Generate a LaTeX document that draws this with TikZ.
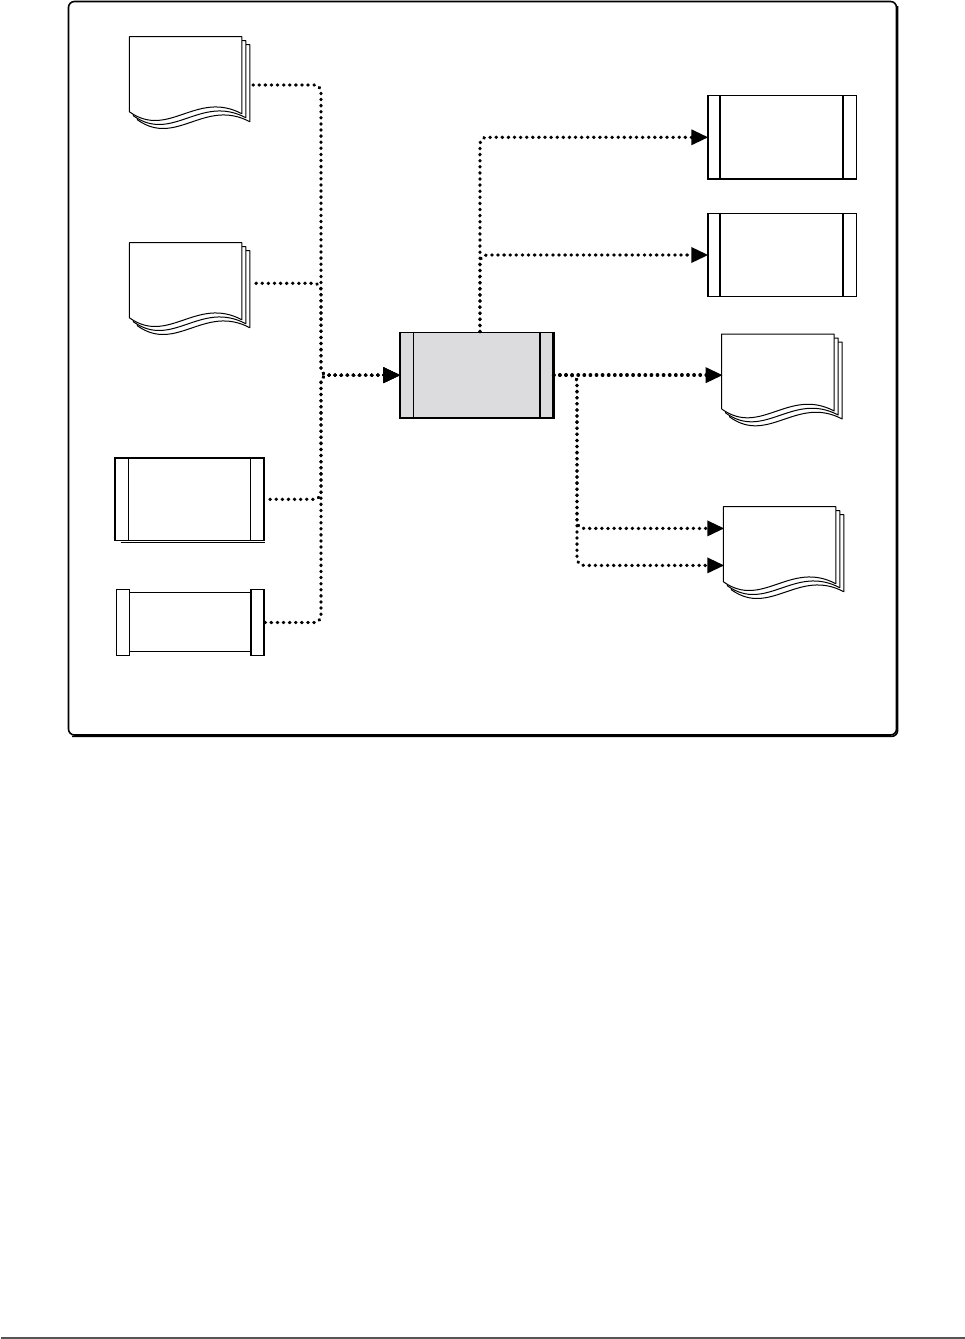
\documentclass[tikz,border=0pt]{standalone}
\usetikzlibrary{arrows.meta,calc}
\definecolor{boxgray}{HTML}{DCDCDE}
\definecolor{rulegray}{HTML}{555555}
\tikzset{
 pagestyle/.style={fill=white,draw=black,line width=1pt,line join=round},
 procbox/.style={draw=black,line width=1.3pt,inner sep=0pt,anchor=north west},
 innerline/.style={draw=black,line width=2pt},
 flow/.style={line width=3.4pt,line cap=round,dash pattern=on 0.4pt off 5.7pt,rounded corners=7pt},
 flowarrow/.style={flow,-{Triangle[length=17pt,width=15pt,sep=-1pt]}},
 flowback/.style={flow,{Triangle[length=17pt,width=15pt,sep=-1pt]}-},
}
\newcommand\docpage[2]{%
 \begin{scope}[shift={(#1,#2)}]
  \filldraw[pagestyle] (0,0) -- (112.5,0) -- (112.5,77) .. controls (67,53) and (39,103) .. (0,75) -- cycle;
 \end{scope}}
\newcommand\multidoc[3]{%
 \docpage{#2+8}{#3+8}\docpage{#2+4}{#3+4}\docpage{#2}{#3}%
 \node[anchor=north west,minimum width=112.5pt,minimum height=75pt,inner sep=0pt] (#1) at (#2,#3) {};}
\begin{document}
\begin{tikzpicture}[x=1pt,y=-1pt]
\useasboundingbox (0,0) rectangle (965,1339);
% frame
\draw[line width=1.6pt,rounded corners=6pt] (68.5,1.5) rectangle (896.5,735);
\draw[line width=1.6pt,rounded corners=6pt] (897.6,6) -- (897.6,736.4) -- (72,736.4);
% bottom rule
\draw[rulegray,line width=2pt] (1,1337.5) -- (965,1337.5);

% documents
\multidoc{d1}{129.3}{36.7}
\multidoc{d2}{129.3}{242.7}
\multidoc{d3}{721.7}{334}
\multidoc{d4}{723.3}{506.7}

% right process boxes
\node[procbox,minimum width=148.4pt,minimum height=83.3pt] (r1) at (707.3,95) {};
\node[procbox,minimum width=148.4pt,minimum height=83.3pt] (r2) at (707.3,212.7) {};
\foreach \b in {r1,r2}{
 \draw[innerline] ($(\b.north west)+(13,0)$) -- ($(\b.south west)+(13,0)$);
 \draw[innerline] ($(\b.north east)+(-14,0)$) -- ($(\b.south east)+(-14,0)$);
}
% central box
\node[procbox,fill=boxgray,minimum width=153pt,minimum height=85.6pt] (c) at (399.3,331.7) {};
\draw[line width=1.2pt] ($(c.north west)+(14,0)$) -- ($(c.south west)+(14,0)$);
\draw[line width=1.2pt] ($(c.north east)+(-13.6,0)$) -- ($(c.south east)+(-13.6,0)$);
\draw[line width=2.2pt] (c.north east) -- (c.south east);
% left process box
\node[procbox,minimum width=148.6pt,minimum height=82.7pt] (l1) at (114.7,457.3) {};
\draw[line width=1.2pt] ($(l1.north west)+(13.6,0)$) -- ($(l1.south west)+(13.6,0)$);
\draw[line width=1.2pt] ($(l1.north east)+(-14,0)$) -- ($(l1.south east)+(-14,0)$);
\draw[line width=2.2pt] (l1.north west) -- (l1.south west);
\draw[line width=1.2pt] ($(l1.south west)+(6,1.2)$) -- ($(l1.south east)+(0,1.2)$);
% left store shape
\node[anchor=north west,inner sep=0pt,minimum width=147.3pt,minimum height=66pt] (l2) at (116.7,589.3) {};
\draw[line width=1.3pt,fill=white] ($(l2.north west)+(12.6,3.4)$) rectangle ($(l2.south east)+(-13.3,-4)$);
\draw[line width=1.3pt,fill=white] (l2.north west) rectangle ($(l2.south west)+(12.6,0)$);
\draw[line width=1.3pt,fill=white] ($(l2.north east)+(-13.3,0)$) rectangle (l2.south east);
\draw[line width=2pt] (l2.north east) -- (l2.south east);

% connectors (left ones drawn from the target back to the source so the shared trunk dots line up)
\coordinate (tl) at (321,0);
\coordinate (s1) at ($(d1.north east)+(8.5,48.3)$);
\coordinate (s2) at ($(d2.north east)+(9,40.6)$);
\draw[flowback] (c.west) -- (tl |- c.west) |- (s1);
\draw[flowback] (c.west) -- (tl |- c.west) |- (s2);
\draw[flowback] (c.west) -- (tl |- c.west) |- (l1.east);
\draw[flowback] (c.west) -- (tl |- c.west) |- (l2.east);

\coordinate (ct) at ($(c.north)+(3.5,0)$);
\draw[flowarrow] (ct) |- (r1.west);
\draw[flowarrow] (ct) |- (r2.west);
\draw[flowarrow] (c.east) -- (c.east -| d3.west);
\coordinate (tr) at (577,0);
\coordinate (d4a) at ($(d4.west)+(0,-16)$);
\coordinate (d4b) at ($(d4.west)+(0,21)$);
\draw[flowarrow] (c.east) -| (tr |- d4a) -- (d4a);
\draw[flowarrow] (c.east) -| (tr |- d4b) -- (d4b);
\end{tikzpicture}
\end{document}
